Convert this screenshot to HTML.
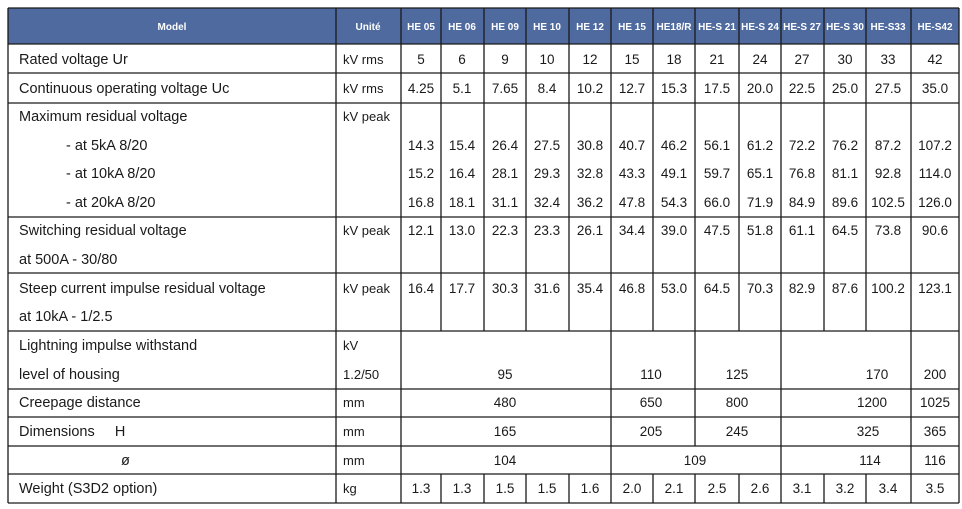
<!DOCTYPE html>
<html><head><meta charset="utf-8"><style>
html,body{margin:0;padding:0;background:#fff;}
svg{display:block;font-family:"Liberation Sans",Arial,sans-serif;}
</style></head><body>
<svg width="962" height="509" viewBox="0 0 962 509" xmlns="http://www.w3.org/2000/svg">
<rect x="8" y="8" width="951" height="36" fill="#4f6a9f"/>
<g stroke="#1a1a1a" stroke-width="1.3" fill="none">
<line x1="8" y1="8" x2="959" y2="8"/>
<line x1="8" y1="44" x2="959" y2="44"/>
<line x1="8" y1="73" x2="959" y2="73"/>
<line x1="8" y1="103" x2="959" y2="103"/>
<line x1="8" y1="217" x2="959" y2="217"/>
<line x1="8" y1="273" x2="959" y2="273"/>
<line x1="8" y1="331" x2="959" y2="331"/>
<line x1="8" y1="389" x2="959" y2="389"/>
<line x1="8" y1="417" x2="959" y2="417"/>
<line x1="8" y1="446" x2="959" y2="446"/>
<line x1="8" y1="474" x2="959" y2="474"/>
<line x1="8" y1="503" x2="959" y2="503"/>
<line x1="8" y1="8" x2="8" y2="503"/>
<line x1="336" y1="8" x2="336" y2="503"/>
<line x1="401" y1="8" x2="401" y2="503"/>
<line x1="959" y1="8" x2="959" y2="503"/>
<line x1="441" y1="8" x2="441" y2="331"/>
<line x1="484" y1="8" x2="484" y2="331"/>
<line x1="526" y1="8" x2="526" y2="331"/>
<line x1="569" y1="8" x2="569" y2="331"/>
<line x1="611" y1="8" x2="611" y2="331"/>
<line x1="653" y1="8" x2="653" y2="331"/>
<line x1="695" y1="8" x2="695" y2="331"/>
<line x1="739" y1="8" x2="739" y2="331"/>
<line x1="781" y1="8" x2="781" y2="331"/>
<line x1="824" y1="8" x2="824" y2="331"/>
<line x1="866" y1="8" x2="866" y2="331"/>
<line x1="911" y1="8" x2="911" y2="331"/>
<line x1="611" y1="331" x2="611" y2="474"/>
<line x1="695" y1="331" x2="695" y2="446"/>
<line x1="781" y1="331" x2="781" y2="474"/>
<line x1="911" y1="331" x2="911" y2="474"/>
<line x1="441" y1="474" x2="441" y2="503"/>
<line x1="484" y1="474" x2="484" y2="503"/>
<line x1="526" y1="474" x2="526" y2="503"/>
<line x1="569" y1="474" x2="569" y2="503"/>
<line x1="611" y1="474" x2="611" y2="503"/>
<line x1="653" y1="474" x2="653" y2="503"/>
<line x1="695" y1="474" x2="695" y2="503"/>
<line x1="739" y1="474" x2="739" y2="503"/>
<line x1="781" y1="474" x2="781" y2="503"/>
<line x1="824" y1="474" x2="824" y2="503"/>
<line x1="866" y1="474" x2="866" y2="503"/>
<line x1="911" y1="474" x2="911" y2="503"/>
</g>
<g fill="#fff" font-weight="bold" font-size="10" text-anchor="middle">
<text x="172" y="30">Model</text><text x="368" y="30">Unité</text>
<text x="421" y="30">HE 05</text><text x="462" y="30">HE 06</text><text x="505" y="30">HE 09</text>
<text x="547" y="30">HE 10</text><text x="590" y="30">HE 12</text><text x="632" y="30">HE 15</text>
<text x="674" y="30">HE18/R</text><text x="717" y="30">HE-S 21</text><text x="760" y="30">HE-S 24</text>
<text x="802" y="30">HE-S 27</text><text x="845" y="30">HE-S 30</text><text x="888" y="30">HE-S33</text>
<text x="935" y="30">HE-S42</text>
</g>
<g fill="#1a1a1a" font-size="14.5">
<text x="19" y="64">Rated voltage Ur</text>
<text x="19" y="93">Continuous operating voltage Uc</text>
<text x="19" y="121">Maximum residual voltage</text>
<text x="66" y="150">- at 5kA 8/20</text>
<text x="66" y="178">- at 10kA 8/20</text>
<text x="66" y="207">- at 20kA 8/20</text>
<text x="19" y="235">Switching residual voltage</text>
<text x="19" y="264">at 500A - 30/80</text>
<text x="19" y="293">Steep current impulse residual voltage</text>
<text x="19" y="321">at 10kA - 1/2.5</text>
<text x="19" y="350">Lightning impulse withstand</text>
<text x="19" y="379">level of housing</text>
<text x="19" y="407">Creepage distance</text>
<text x="19" y="436">Dimensions&#160;&#160;&#160;&#160; H</text>
<text x="121" y="465">ø</text>
<text x="19" y="493">Weight (S3D2 option)</text>
</g>
<g fill="#1a1a1a" font-size="13">
<text x="343" y="64">kV rms</text><text x="343" y="93">kV rms</text><text x="343" y="121">kV peak</text>
<text x="343" y="235">kV peak</text><text x="343" y="293">kV peak</text>
<text x="343" y="350">kV</text><text x="343" y="379">1.2/50</text>
<text x="343" y="407">mm</text><text x="343" y="436">mm</text><text x="343" y="465">mm</text><text x="343" y="493">kg</text>
</g>
<g fill="#1a1a1a" font-size="13.5" text-anchor="middle">
<text y="64"><tspan x="421">5</tspan><tspan x="462">6</tspan><tspan x="505">9</tspan><tspan x="547">10</tspan><tspan x="590">12</tspan><tspan x="632">15</tspan><tspan x="674">18</tspan><tspan x="717">21</tspan><tspan x="760">24</tspan><tspan x="802">27</tspan><tspan x="845">30</tspan><tspan x="888">33</tspan><tspan x="935">42</tspan></text>
<text y="93"><tspan x="421">4.25</tspan><tspan x="462">5.1</tspan><tspan x="505">7.65</tspan><tspan x="547">8.4</tspan><tspan x="590">10.2</tspan><tspan x="632">12.7</tspan><tspan x="674">15.3</tspan><tspan x="717">17.5</tspan><tspan x="760">20.0</tspan><tspan x="802">22.5</tspan><tspan x="845">25.0</tspan><tspan x="888">27.5</tspan><tspan x="935">35.0</tspan></text>
<text y="150"><tspan x="421">14.3</tspan><tspan x="462">15.4</tspan><tspan x="505">26.4</tspan><tspan x="547">27.5</tspan><tspan x="590">30.8</tspan><tspan x="632">40.7</tspan><tspan x="674">46.2</tspan><tspan x="717">56.1</tspan><tspan x="760">61.2</tspan><tspan x="802">72.2</tspan><tspan x="845">76.2</tspan><tspan x="888">87.2</tspan><tspan x="935">107.2</tspan></text>
<text y="178"><tspan x="421">15.2</tspan><tspan x="462">16.4</tspan><tspan x="505">28.1</tspan><tspan x="547">29.3</tspan><tspan x="590">32.8</tspan><tspan x="632">43.3</tspan><tspan x="674">49.1</tspan><tspan x="717">59.7</tspan><tspan x="760">65.1</tspan><tspan x="802">76.8</tspan><tspan x="845">81.1</tspan><tspan x="888">92.8</tspan><tspan x="935">114.0</tspan></text>
<text y="207"><tspan x="421">16.8</tspan><tspan x="462">18.1</tspan><tspan x="505">31.1</tspan><tspan x="547">32.4</tspan><tspan x="590">36.2</tspan><tspan x="632">47.8</tspan><tspan x="674">54.3</tspan><tspan x="717">66.0</tspan><tspan x="760">71.9</tspan><tspan x="802">84.9</tspan><tspan x="845">89.6</tspan><tspan x="888">102.5</tspan><tspan x="935">126.0</tspan></text>
<text y="235"><tspan x="421">12.1</tspan><tspan x="462">13.0</tspan><tspan x="505">22.3</tspan><tspan x="547">23.3</tspan><tspan x="590">26.1</tspan><tspan x="632">34.4</tspan><tspan x="674">39.0</tspan><tspan x="717">47.5</tspan><tspan x="760">51.8</tspan><tspan x="802">61.1</tspan><tspan x="845">64.5</tspan><tspan x="888">73.8</tspan><tspan x="935">90.6</tspan></text>
<text y="293"><tspan x="421">16.4</tspan><tspan x="462">17.7</tspan><tspan x="505">30.3</tspan><tspan x="547">31.6</tspan><tspan x="590">35.4</tspan><tspan x="632">46.8</tspan><tspan x="674">53.0</tspan><tspan x="717">64.5</tspan><tspan x="760">70.3</tspan><tspan x="802">82.9</tspan><tspan x="845">87.6</tspan><tspan x="888">100.2</tspan><tspan x="935">123.1</tspan></text>
<text y="379"><tspan x="505">95</tspan><tspan x="651">110</tspan><tspan x="737">125</tspan><tspan x="877">170</tspan><tspan x="935">200</tspan></text>
<text y="407"><tspan x="505">480</tspan><tspan x="651">650</tspan><tspan x="737">800</tspan><tspan x="872">1200</tspan><tspan x="935">1025</tspan></text>
<text y="436"><tspan x="505">165</tspan><tspan x="651">205</tspan><tspan x="737">245</tspan><tspan x="868">325</tspan><tspan x="935">365</tspan></text>
<text y="465"><tspan x="505">104</tspan><tspan x="695">109</tspan><tspan x="870">114</tspan><tspan x="935">116</tspan></text>
<text y="493"><tspan x="421">1.3</tspan><tspan x="462">1.3</tspan><tspan x="505">1.5</tspan><tspan x="547">1.5</tspan><tspan x="590">1.6</tspan><tspan x="632">2.0</tspan><tspan x="674">2.1</tspan><tspan x="717">2.5</tspan><tspan x="760">2.6</tspan><tspan x="802">3.1</tspan><tspan x="845">3.2</tspan><tspan x="888">3.4</tspan><tspan x="935">3.5</tspan></text>
</g>
</svg>
</body></html>
